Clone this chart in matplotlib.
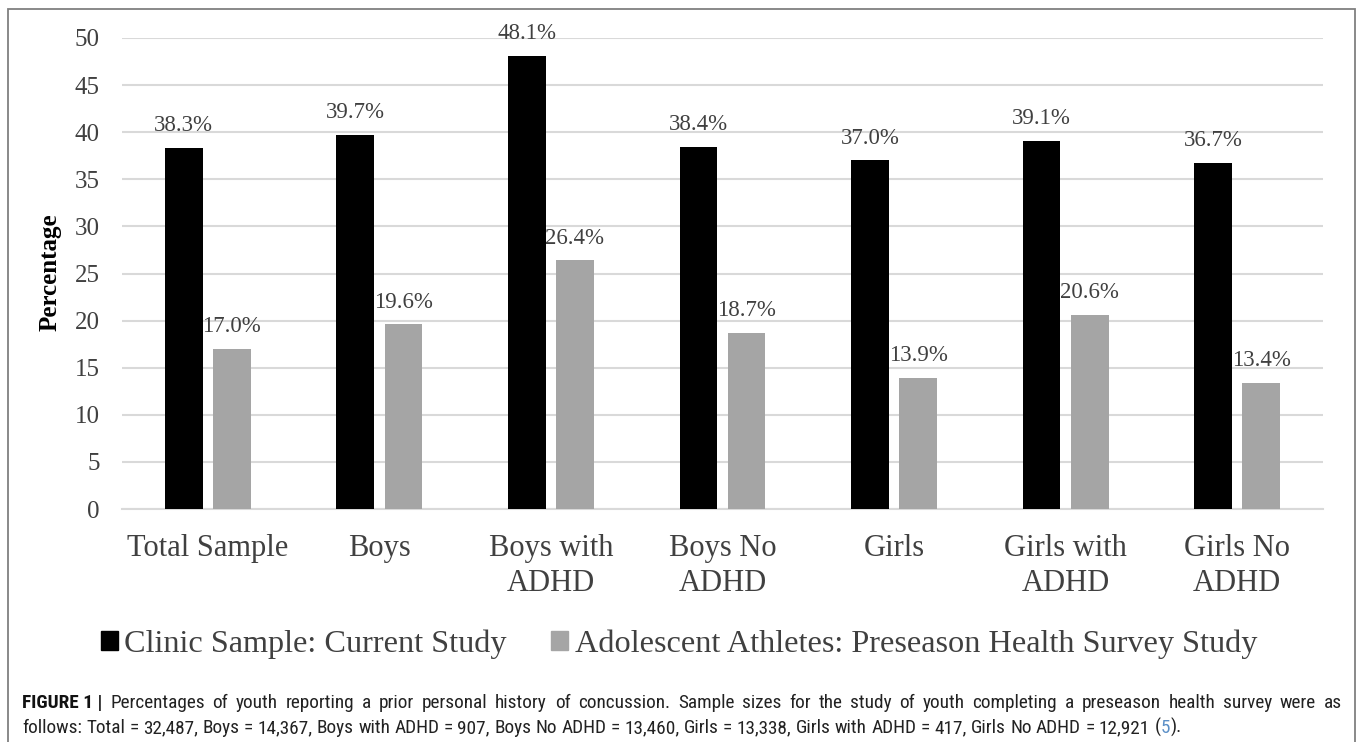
import matplotlib
matplotlib.use("Agg")
import matplotlib.pyplot as plt
from matplotlib.patches import Rectangle
from matplotlib import font_manager
import numpy as np

# ---- data -------------------------------------------------------------
categories = ["Total Sample", "Boys", "Boys with\nADHD", "Boys No\nADHD",
              "Girls", "Girls with\nADHD", "Girls No\nADHD"]
clinic = [38.3, 39.7, 48.1, 38.4, 37.0, 39.1, 36.7]
athletes = [17.0, 19.6, 26.4, 18.7, 13.9, 20.6, 13.4]
series_names = ["Clinic Sample: Current Study",
                "Adolescent Athletes: Preseason Health Survey Study"]
y_ticks = [0, 5, 10, 15, 20, 25, 30, 35, 40, 45, 50]

caption_label = "FIGURE 1 |"
caption_line1 = ("Percentages of youth reporting a prior personal history of concussion. "
                 "Sample sizes for the study of youth completing a preseason health survey were as")
caption_line2 = ("follows: Total = 32,487, Boys = 14,367, Boys with ADHD = 907, "
                 "Boys No ADHD = 13,460, Girls = 13,338, Girls with ADHD = 417, "
                 "Girls No ADHD = 12,921 (5).")

# ---- style --------------------------------------------------------------
W, H, DPI = 1358, 742, 100
SERIF = "Liberation Serif"
_installed = {f.name for f in font_manager.fontManager.ttflist}
SANS = next((f for f in ["Roboto Condensed", "Archivo Narrow", "PT Sans Narrow",
                         "Liberation Sans Narrow", "Liberation Sans"] if f in _installed),
            "DejaVu Sans")

TEXT = "#404040"
GRID = "#d9d9d9"
BLACK = "#000000"
GREY = "#a5a5a5"

fig = plt.figure(figsize=(W / DPI, H / DPI), dpi=DPI)
fig.patch.set_facecolor("white")

# outer frame around chart and caption
fig.add_artist(Rectangle((8 / W, -0.05), (1355 - 8) / W, 1 - 9 / H + 0.05,
                         transform=fig.transFigure, fill=False,
                         edgecolor="#808080", linewidth=1.3))

ax = fig.add_axes([122 / W, 1 - 509 / H, (1323 - 122) / W, (509 - 38) / H])
ax.set_ylim(0, 50)
ax.set_xlim(-0.5, len(categories) - 0.5)
x = np.arange(len(categories))
bw, off = 0.22, 0.14
b1 = ax.bar(x - off, clinic, bw, color=BLACK, zorder=3)
b2 = ax.bar(x + off, athletes, bw, color=GREY, zorder=3)

for bars, vals in ((b1, clinic), (b2, athletes)):
    for rect, v in zip(bars, vals):
        ax.annotate(f"{v:.1f}%", (rect.get_x() + rect.get_width() / 2, v),
                    xytext=(0, 8.5), textcoords="offset points",
                    ha="center", va="bottom", fontsize=16.5,
                    family=SERIF, color=TEXT, annotation_clip=False, zorder=4)

ax.set_yticks(y_ticks)
ax.set_yticklabels([str(t) for t in y_ticks], family=SERIF, fontsize=18, color=TEXT)
ax.set_xticks(x)
ax.set_xticklabels(categories, family=SERIF, fontsize=22, color=TEXT,
                   linespacing=1.26)
ax.tick_params(axis="y", length=0, pad=16)
ax.tick_params(axis="x", length=0, pad=18)
ax.yaxis.grid(True, color=GRID, linewidth=1.5, zorder=0)
ax.set_axisbelow(True)
for s in ("left", "right", "top"):
    ax.spines[s].set_visible(False)
ax.spines["bottom"].set_color(GRID)
ax.spines["bottom"].set_linewidth(1.5)

fig.text(50 / W, 1 - 272 / H, "Percentage", rotation=90, ha="center", va="center",
         family=SERIF, fontweight="bold", fontsize=18, color="#000000")

handles = [Rectangle((0, 0), 1, 1, color=BLACK), Rectangle((0, 0), 1, 1, color=GREY)]
leg = fig.legend(handles, series_names, loc="center", ncol=2,
                 bbox_to_anchor=(0.5, 1 - 644 / H), frameon=False,
                 prop={"family": SERIF, "size": 23.2},
                 handlelength=0.53, handleheight=0.53, handletextpad=0.2,
                 columnspacing=1.37, borderaxespad=0, borderpad=0)
for t in leg.get_texts():
    t.set_color(TEXT)

# ---- caption ------------------------------------------------------------
renderer = fig.canvas.get_renderer()


def word_width(word, size, weight="normal"):
    t = fig.text(0, 0, word, fontsize=size, family=SANS, fontweight=weight)
    w = t.get_window_extent(renderer).width
    t.remove()
    return w


def space_width(size):
    return word_width("a a", size) - 2 * word_width("a", size)


def layout(words, size):
    return [word_width(w, size, wt) for w, wt, _ in words]


def natural(words, size):
    return sum(layout(words, size)) + space_width(size) * (len(words) - 1)


BODY = "#222222"
line1 = [(caption_label, "bold", "#111111")]
line1 += [(w, "normal", BODY) for w in caption_line1.split(" ")]
line2 = [(w, "normal", BODY) for w in caption_line2.split(" ")]

x_left, x_right = 22, 1342
# caption size: balance the justified first line and the ragged second line
size0 = 13.0
fit1 = size0 * (x_right - x_left) / natural(line1, size0)
fit2 = size0 * 1079 / natural(line2, size0)
cap_size = min(0.5 * (fit1 + fit2), fit1)
space = space_width(cap_size)

# first line: justified
ws1 = layout(line1, cap_size)
gap1 = (x_right - x_left - sum(ws1)) / (len(line1) - 1)
xx = x_left
for (w, wt, col), ww in zip(line1, ws1):
    fig.text(xx / W, 1 - 708 / H, w, fontsize=cap_size, family=SANS, fontweight=wt,
             color=col, ha="left", va="baseline")
    xx += ww + gap1

# second line: natural spacing, citation number in link colour
ws2 = layout(line2, cap_size)
xx = x_left
for (w, wt, col), ww in zip(line2, ws2):
    if w == "(5).":
        px = xx
        for p, c in [("(", col), ("5", "#5b8fc7"), (").", col)]:
            t = fig.text(px / W, 1 - 733 / H, p, fontsize=cap_size, family=SANS,
                         color=c, ha="left", va="baseline")
            px += t.get_window_extent(renderer).width
    else:
        fig.text(xx / W, 1 - 733 / H, w, fontsize=cap_size, family=SANS, fontweight=wt,
                 color=col, ha="left", va="baseline")
    xx += ww + space

fig.savefig("out.png", dpi=DPI, facecolor="white")
